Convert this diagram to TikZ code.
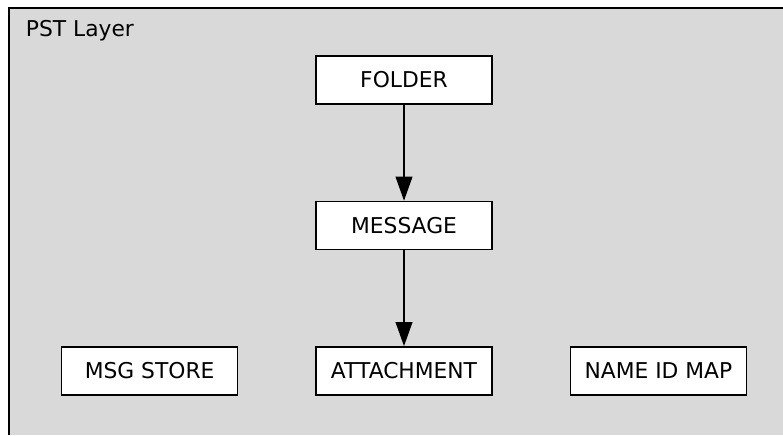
\documentclass[tikz,border=0pt]{standalone}
\usepackage{fontspec}
\setmainfont{DejaVu Sans}
\usetikzlibrary{positioning,arrows.meta}
\definecolor{layergrey}{HTML}{D9D9D9}

\begin{document}
\begin{tikzpicture}[
                        font=\fontsize{15.5}{18}\selectfont,
                        obj/.style={draw,fill=white,line width=1pt,minimum width=4.4cm,minimum height=1.2cm,inner sep=0pt},
                        link/.style={line width=1pt,-{Triangle[length=0.6cm,width=0.42cm]}},
                        node distance=2.4cm and 1.925cm]
                        \useasboundingbox (0,0) rectangle (19.575,10.875);
                        \fill[layergrey] (0.225,0) rectangle (19.575,10.675);
                        \draw[line width=1pt] (0.225,0) |- (19.575,10.675);
                        \node[anchor=base west] (layer) at (0.525,9.95) {PST Layer};
                        \node[obj] (folder) at (10.1,8.875) {FOLDER};
                        \node[obj,below=of folder] (message) {MESSAGE};
                        \node[obj,below=of message] (attachment) {ATTACHMENT};
                        \node[obj,left=of attachment] (msgstore) {MSG STORE};
                        \node[obj,right=of attachment] (nameidmap) {NAME ID MAP};
                        \draw[link] (folder) -- (message);
                        \draw[link] (message) -- (attachment);
                \end{tikzpicture}
\end{document}
